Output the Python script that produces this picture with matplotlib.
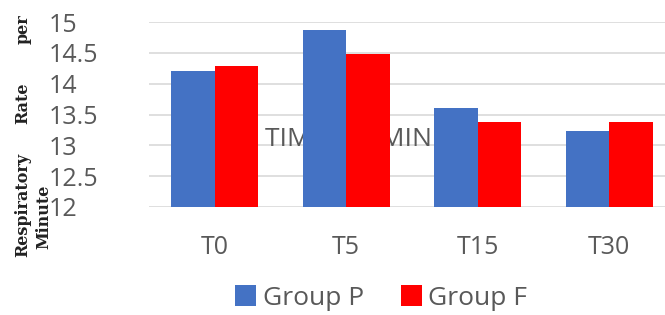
import matplotlib.pyplot as plt
import numpy as np

# data
categories = ['T0', 'T5', 'T15', 'T30']
group_p = [14.2, 14.87, 13.6, 13.23]
group_f = [14.28, 14.48, 13.38, 13.38]
yticks = [12, 12.5, 13, 13.5, 14, 14.5, 15]
ytick_labels = ['12', '12.5', '13', '13.5', '14', '14.5', '15']

plt.rcParams['font.family'] = ['Open Sans', 'DejaVu Sans']

fig = plt.figure(figsize=(6.65, 3.15), dpi=100)
ax = fig.add_axes([149/665, 1 - 207/315, 1 - 149/665, (207 - 22)/315])

x = np.arange(len(categories))
w = 0.33
ax.bar(x - w/2, group_p, w, color='#4472C4', label='Group P', zorder=3)
ax.bar(x + w/2, group_f, w, color='#FF0000', label='Group F', zorder=3)

ax.set_ylim(12, 15)
ax.set_xlim(-0.5, -0.5 + 516/131.5)
ax.set_yticks(yticks)
ax.set_yticklabels(ytick_labels)
ax.set_xticks(x)
ax.set_xticklabels(categories)
ax.tick_params(axis='both', length=0, labelsize=18, colors='#595959')
ax.tick_params(axis='x', pad=20)
for lab in ax.get_yticklabels():
    lab.set_horizontalalignment('left')
ax.yaxis.set_tick_params(pad=72)
ax.grid(axis='y', color='#D9D9D9', linewidth=1.2, zorder=0)
for s in ax.spines.values():
    s.set_visible(False)

# axis title sitting behind the bars
ax.text(1.02, 13.1, 'TIME  IN  MIN', ha='center', va='center', fontsize=19,
        color='#595959', zorder=2)

# y label, rotated serif words
yl = dict(rotation=90, fontsize=11.5, fontweight='bold', family='DejaVu Serif',
          color='#222222', va='center', ha='center')
fig.text(23/665, 1 - 205/315, 'Respiratory', **yl)
fig.text(23/665, 1 - 103/315, 'Rate', **yl)
fig.text(23/665, 1 - 29/315, 'per', **yl)
fig.text(44/665, 1 - 217/315, 'Minute', **yl)

ax.legend(loc='center', bbox_to_anchor=(381/665, 1 - 298/315),
          bbox_transform=fig.transFigure, ncol=2, frameon=False,
          fontsize=19, labelcolor='#595959', handlelength=0.8,
          handleheight=0.8, handletextpad=0.25, columnspacing=1.4)

fig.savefig('out.png', dpi=100)
